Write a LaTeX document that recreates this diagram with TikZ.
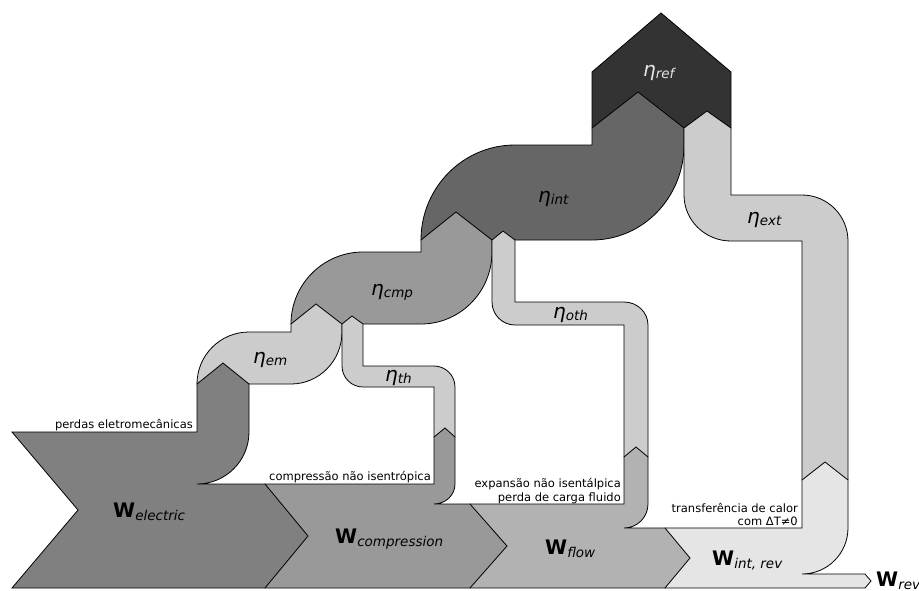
\documentclass[tikz,border=0pt]{standalone}
\usepackage{fontspec}
\setmainfont{DejaVu Sans}
\definecolor{gRef}{gray}{0.2}
\definecolor{gInt}{gray}{0.4}
\definecolor{gElec}{gray}{0.5}
\definecolor{gCmp}{gray}{0.6}
\definecolor{gFlow}{gray}{0.7}
\definecolor{gLight}{gray}{0.8}
\definecolor{gIntRev}{gray}{0.9}
% efficiency label: eta with an oblique subscript
\newcommand\etalbl[1]{{\fontsize{20}{20}\selectfont\itshape η}\raisebox{-2pt}{\fontsize{13.5}{13.5}\selectfont\itshape #1}}
% work label: bold W with an oblique subscript
\newcommand\wlbl[1]{{\fontsize{20}{20}\selectfont\bfseries W}\raisebox{-3pt}{\fontsize{13.5}{13.5}\selectfont\itshape #1}}
\begin{document}
\begin{tikzpicture}[x=1pt,y=-1pt,
  band/.style={draw=black,line width=0.8pt},
  lbl/.style={inner sep=0pt,anchor=base west},
  note/.style={inner sep=0pt,anchor=base east,font=\fontsize{11.5}{14}\selectfont}]
\useasboundingbox (0,0) rectangle (919,590);

% --- efficiency nodes, back to front ---
% refrigeration
\draw[band,fill=gRef] (592,128) -- (592,72) -- (661,13) -- (731,72) -- (731,128) -- cycle;
% internal
\draw[band,fill=gInt] (421,240) arc[start angle=180,end angle=270,x radius=94,y radius=95]
  -- (592,145) -- (592,128) -- (638,92) -- (684,128) -- (684,145)
  arc[start angle=0,end angle=90,x radius=92,y radius=95] -- cycle;
% external
\draw[band,fill=gLight] (684,128) -- (707,111) -- (731,128) -- (731,195) -- (802,195)
  arc[start angle=270,end angle=360,radius=46] -- (848,480) -- (802,480) -- (802,241) -- (731,241)
  arc[start angle=90,end angle=180,x radius=47,y radius=46] -- cycle;
% compressor
\draw[band,fill=gCmp] (291,324) arc[start angle=180,end angle=270,radius=72]
  -- (421,252) -- (421,240) -- (456,212) -- (492,240) -- (492,252)
  arc[start angle=0,end angle=90,x radius=71,y radius=72] -- cycle;
% other losses
\draw[band,fill=gLight] (492,240) -- (503,231) -- (515,240) -- (515,302) -- (624,302)
  arc[start angle=270,end angle=360,x radius=24,y radius=23] -- (648,457) -- (624,457) -- (624,325) -- (515,325)
  arc[start angle=90,end angle=180,radius=23] -- cycle;
% electromechanical
\draw[band,fill=gLight] (197,384) arc[start angle=180,end angle=270,radius=52]
  -- (291,332) -- (291,324) -- (316,304) -- (342,324) -- (342,332)
  arc[start angle=0,end angle=90,x radius=51,y radius=52] -- cycle;
% thermal
\draw[band,fill=gLight] (342,324) -- (352,316) -- (363,324) -- (363,366) -- (434,366)
  arc[start angle=270,end angle=360,radius=21] -- (455,437) -- (434,437) -- (434,387) -- (363,387)
  arc[start angle=90,end angle=180,radius=21] -- cycle;

% --- work flows, right to left ---
\draw[band,fill=gIntRev] (665,528) -- (802,528) -- (802,480) -- (825,462) -- (848,480) -- (848,528)
  arc[start angle=0,end angle=90,radius=46] -- (865,574) -- (871,581) -- (865,588) -- (665,588) -- cycle;
\draw[band,fill=gFlow] (470,504) -- (624,504) -- (624,457) -- (636,447) -- (648,457) -- (648,504)
  arc[start angle=0,end angle=90,radius=24] -- (665,528) -- (690,558) -- (665,588) -- (470,588) -- cycle;
\draw[band,fill=gCmp] (265,484) -- (434,484) -- (434,437) -- (445,428) -- (455,437) -- (455,484)
  arc[start angle=0,end angle=90,x radius=21,y radius=20] -- (470,504) -- (507,546) -- (470,588) -- (265,588) -- cycle;
\draw[band,fill=gElec] (12,432) -- (197,432) -- (197,384) -- (223,363) -- (249,384) -- (249,432)
  arc[start angle=0,end angle=90,radius=52] -- (265,484) -- (308,536) -- (265,588) -- (12,588) -- (78,510) -- cycle;

% --- labels ---
\node[lbl,text=gIntRev] (etaref) at (643,76) {\etalbl{ref}};
\node[lbl] (etaint) at (538,202) {\etalbl{int}};
\node[lbl] (etacmp) at (371,295) {\etalbl{cmp}};
\node[lbl] (etaem) at (253,363) {\etalbl{em}};
\node[lbl] (etath) at (385,381) {\etalbl{th}};
\node[lbl] (etaoth) at (553,318) {\etalbl{oth}};
\node[lbl] (etaext) at (747,223) {\etalbl{ext}};

\node[lbl] (welec) at (113,517) {\wlbl{electric}};
\node[lbl] (wcomp) at (335,543) {\wlbl{compression}};
\node[lbl] (wflow) at (545,554) {\wlbl{flow}};
\node[lbl] (wintrev) at (712,565) {\wlbl{int, rev}};
\node[lbl] (wrev) at (876,586) {\wlbl{rev}};

\node[note] (lossem) at (193,428) {perdas eletromecânicas};
\node[note] (losscmp) at (431,480) {compressão não isentrópica};
\node[note] (lossflowa) at (621,487) {expansão não isentálpica};
\node[note] (lossflowb) at (621,501) {perda de carga fluido};
\node[note] (lossheata) at (798,512) {transferência de calor};
\node[note] (lossheatb) at (798,525) {com ΔT≠0};
\end{tikzpicture}
\end{document}
